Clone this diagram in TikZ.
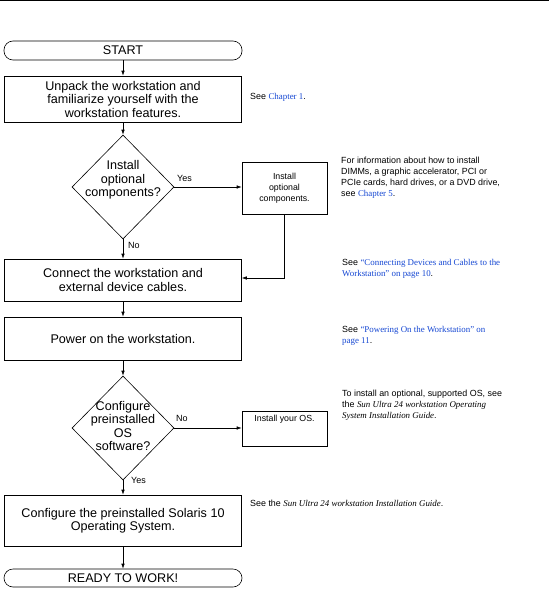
\documentclass[tikz,border=0pt]{standalone}
\usepackage{fontspec}
\setmainfont{Liberation Sans}
\newfontfamily\linkfont{Liberation Serif}
\usetikzlibrary{shapes.geometric,arrows.meta}
\definecolor{linkblue}{RGB}{20,70,210}
\newcommand{\lnk}[1]{{\linkfont\color{linkblue}#1}}
\tikzset{
  flow/.style={draw, line width=0.6pt, inner sep=0pt, align=center, font=\fontsize{12.6}{13.5}\selectfont},
  term/.style={flow, rounded corners=9pt},
  bigbox/.style={flow, minimum width=237pt},
  smallbox/.style={draw, line width=0.6pt, inner sep=0pt, minimum width=85pt, align=center, font=\fontsize{8.8}{11}\selectfont},
  dia/.style={draw, diamond, line width=0.6pt, inner sep=0pt, minimum width=102pt, minimum height=104pt},
  diatext/.style={align=center, inner sep=0pt, font=\fontsize{12.6}{13.5}\selectfont},
  note/.style={align=left, anchor=north west, inner sep=0pt, font=\fontsize{8.9}{11}\selectfont},
  lbl/.style={inner sep=0pt, font=\fontsize{9}{11}\selectfont},
  arr/.style={-{Latex[length=5pt,width=3.5pt]}, line width=0.6pt},
}
\begin{document}
\begin{tikzpicture}[x=1pt,y=-1pt]
\useasboundingbox (0,0) rectangle (549,594);
\draw[line width=1.2pt] (0,0.6) -- (549,0.6);
% nodes
\node[term, minimum width=238pt, minimum height=19pt] (start) at (123,50.5) {START};
\node[bigbox, minimum height=46pt] (unpack) at (123,99) {Unpack the workstation and\\familiarize yourself with the\\workstation features.};
\node[dia] (d1) at (123,187) {};
\node[diatext] (d1t) at (123,180) {Install\\optional\\components?};
\node[smallbox, minimum height=52pt] (opt) at (284.5,188) {Install\\optional\\components.};
\node[bigbox, minimum height=42pt] (connect) at (123,280) {Connect the workstation and\\external device cables.};
\node[bigbox, minimum height=43pt] (power) at (123,338.5) {Power on the workstation.};
\node[dia] (d2) at (123,428) {};
\node[diatext] (d2t) at (123,426) {Configure\\preinstalled\\OS\\software?};
\node[smallbox, minimum height=35pt] (os) at (284.5,428.5) {};
\node[inner sep=0pt, font=\fontsize{8.8}{11}\selectfont] (ost) at (284.5,419) {Install your OS.};
\node[bigbox, minimum height=51pt] (solaris) at (123,520.5) {Configure the preinstalled Solaris 10\\Operating System.};
\node[term, minimum width=238pt, minimum height=18pt] (ready) at (123,578) {READY TO WORK!};
% connectors
\draw[arr] (start) -- (unpack);
\draw[arr] (unpack) -- (d1.north);
\draw[arr] (d1.east) -- (opt.west |- d1.east);
\draw[arr] (d1.south) -- (connect.north);
\draw[arr] (opt.south) |- ([yshift=2pt]connect.east);
\draw[arr] (connect) -- (power);
\draw[arr] (power) -- (d2.north);
\draw[arr] (d2.east) -- (os.west |- d2.east);
\draw[arr] (d2.south) -- (solaris.north);
\draw[arr] (solaris) -- (ready);
% labels
\node[lbl, anchor=west] (yes1) at (177,178) {Yes};
\node[lbl, anchor=west] (no1) at (128,245) {No};
\node[lbl, anchor=west] (no2) at (176,418) {No};
\node[lbl, anchor=west] (yes2) at (131,480) {Yes};
% notes
\node[note, anchor=west] (n1) at (250,97) {See \lnk{Chapter 1}.};
\node[note] (n2) at (341,157) {For information about how to install\\DIMMs, a graphic accelerator, PCI or\\PCIe cards, hard drives, or a DVD drive,\\see \lnk{Chapter 5}.};
\node[note] (n3) at (342,259) {See \lnk{“Connecting Devices and Cables to the}\\\lnk{Workstation” on page 10}.};
\node[note] (n4) at (342,326) {See \lnk{“Powering On the Workstation” on}\\\lnk{page 11}.};
\node[note] (n5) at (342,390) {To install an optional, supported OS, see\\the {\linkfont\itshape Sun Ultra 24 workstation Operating}\\{\linkfont\itshape System Installation Guide}.};
\node[note, anchor=west] (n6) at (250,503) {See the {\linkfont\itshape Sun Ultra 24 workstation Installation Guide}.};
\end{tikzpicture}
\end{document}
